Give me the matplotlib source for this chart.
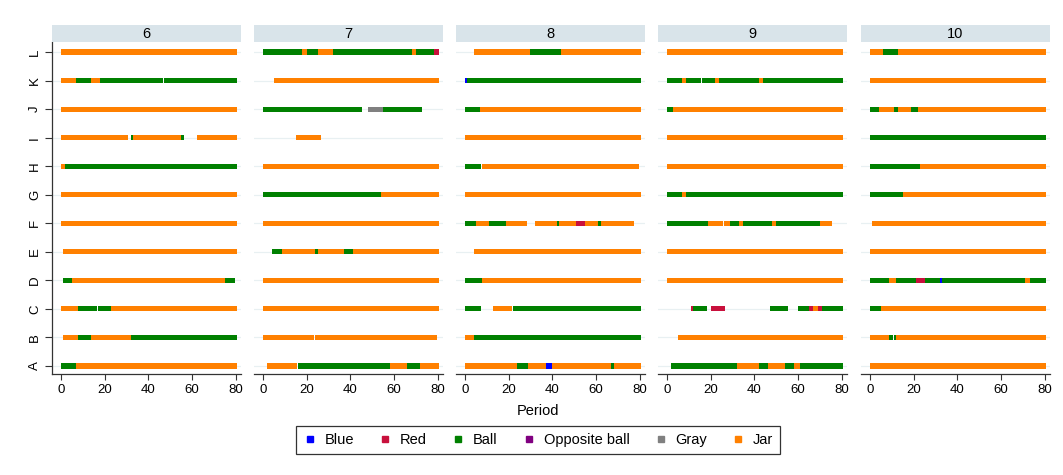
import matplotlib
matplotlib.use("Agg")
import matplotlib.pyplot as plt
from matplotlib.lines import Line2D

plt.rcParams['font.family'] = ['Liberation Sans', 'DejaVu Sans']

# Groups (panels) and subjects (rows, bottom to top)
groups = ['6', '7', '8', '9', '10']
subjects = ['A', 'B', 'C', 'D', 'E', 'F', 'G', 'H', 'I', 'J', 'K', 'L']

# Choice categories: code used in the run strings, legend name, colour
choice_codes = ['U', 'R', 'B', 'O', 'G', 'J']
choice_names = ['Blue', 'Red', 'Ball', 'Opposite ball', 'Gray', 'Jar']
choice_colors = ['#0000ff', '#c8103c', '#008000', '#800080', '#808080', '#ff8000']

# Choices per period, written as runs "<code><first>-<last>"; missing periods are gaps
group6 = {
    'L': 'J1-80',
    'K': 'J1-7 B8-14 J15-18 B19-46 B48-80',
    'J': 'J1-80',
    'I': 'J1-30 B33 J34-55 B56 J63-80',
    'H': 'J1-2 B3-80',
    'G': 'J1-80',
    'F': 'J1-80',
    'E': 'J2-80',
    'D': 'B2-5 J6-75 B76-79',
    'C': 'J1-8 B9-16 B18-23 J24-80',
    'B': 'J2-8 B9-14 J15-32 B33-80',
    'A': 'B1-7 J8-80',
}
group7 = {
    'L': 'B1-18 J19-20 B21-25 J26-32 B33-68 J69-70 B71-78 R79-80',
    'K': 'J6-80',
    'J': 'B1-45 G49-55 B56-72',
    'I': 'J16-26',
    'H': 'J1-80',
    'G': 'B1-54 J55-80',
    'F': 'J1-80',
    'E': 'B5-9 J10-24 B25 J26-37 B38-41 J42-80',
    'D': 'J1-80',
    'C': 'J1-80',
    'B': 'J1-23 J25-79',
    'A': 'J3-15 B17-58 J59-66 B67-72 J73-80',
}
group8 = {
    'L': 'J5-30 B31-44 J45-80',
    'K': 'U1 B2-80',
    'J': 'B1-7 J8-80',
    'I': 'J1-80',
    'H': 'B1-7 J9-79',
    'G': 'J1-80',
    'F': 'B1-5 J6-11 B12-19 J20-28 J33-42 B43 J44-51 R52-55 J56-61 B62 J63-77',
    'E': 'J5-80',
    'D': 'B1-8 J9-80',
    'C': 'B1-7 J14-21 B23-80',
    'B': 'J1-4 B5-80',
    'A': 'J1-24 B25-29 J30-37 U38-40 J41-67 B68 J69-80',
}
group9 = {
    'L': 'J1-80',
    'K': 'B1-7 J8-9 B10-15 B17-22 J23-24 B25-42 J43-44 B45-80',
    'J': 'B1-3 J4-80',
    'I': 'J1-80',
    'H': 'J1-80',
    'G': 'B1-7 J8-9 B10-80',
    'F': 'B1-19 J20-25 J27-29 B30-33 J34-35 B36-48 J49-50 B51-70 J71-75',
    'E': 'J1-80',
    'D': 'J1-80',
    'C': 'R12 B13-18 R21-26 B48-55 B61-65 R66-67 J68-69 R70-71 B72-80',
    'B': 'J6-80',
    'A': 'B3-32 J33-42 B43-46 J47-54 B55-58 J59-61 B62-80',
}
group10 = {
    'L': 'J1-6 B7-13 J14-80',
    'K': 'J1-80',
    'J': 'B1-4 J5-11 B12-13 J14-19 B20-22 J23-80',
    'I': 'B1-80',
    'H': 'B1-23 J24-80',
    'G': 'B1-15 J16-80',
    'F': 'J2-80',
    'E': 'J1-80',
    'D': 'B1-9 J10-12 B13-21 R22-25 B26-32 U33 B34-71 J72-73 B74-80',
    'C': 'B1-5 J6-80',
    'B': 'J1-9 B10 B12 J13-80',
    'A': 'J1-80',
}
group_data = [group6, group7, group8, group9, group10]

x_ticks = [0, 20, 40, 60, 80]


def parse_runs(text):
    runs = []
    for tok in text.split():
        code, span = tok[0], tok[1:]
        if '-' in span:
            a, b = (int(v) for v in span.split('-'))
        else:
            a = b = int(span)
        runs.append((a, b, code))
    return runs


color_of = dict(zip(choice_codes, choice_colors))

W, H = 1063, 475
fig = plt.figure(figsize=(W / 100, H / 100), dpi=100)

panel_lefts = [52, 254, 456, 658, 861]
panel_w = 189
plot_top, plot_bottom, strip_top = 42, 374, 25

for i, (g, data) in enumerate(zip(groups, group_data)):
    left = panel_lefts[i]
    ax = fig.add_axes([left / W, (H - plot_bottom) / H, panel_w / W,
                       (plot_bottom - plot_top) / H])
    for row, subj in enumerate(subjects, start=1):
        ax.axhline(row, color='#e8f0f2', lw=0.9, zorder=0)
        for a, b, code in parse_runs(data[subj]):
            ax.barh(row, width=b - a + 1.5, left=a - 1, height=0.18,
                    color=color_of[code], linewidth=0, zorder=2)
    ax.set_xlim(-4, 82.3)
    ax.set_ylim(0.72, 12.35)
    ax.set_xticks(x_ticks)
    ax.tick_params(axis='x', length=4, width=0.8, color='#333333',
                   labelsize=9.5, pad=3)
    for s in ('top', 'right'):
        ax.spines[s].set_visible(False)
    ax.spines['bottom'].set_color('#333333')
    ax.spines['bottom'].set_linewidth(0.9)
    if i == 0:
        ax.set_yticks(range(1, len(subjects) + 1))
        ax.set_yticklabels(subjects, rotation=90, va='center')
        ax.tick_params(axis='y', length=5, width=0.8, color='#333333',
                       labelsize=9.5, pad=3)
        ax.spines['left'].set_color('#333333')
        ax.spines['left'].set_linewidth(0.9)
    else:
        ax.set_yticks([])
        ax.spines['left'].set_visible(False)

    strip = fig.add_axes([left / W, (H - plot_top) / H, panel_w / W,
                          (plot_top - strip_top) / H])
    strip.set_facecolor('#d9e4ea')
    strip.set_xticks([])
    strip.set_yticks([])
    for s in strip.spines.values():
        s.set_visible(False)
    strip.text(0.5, 0.5, g, ha='center', va='center', fontsize=10.5,
               transform=strip.transAxes)

fig.text(538 / W, (H - 411) / H, 'Period', ha='center', va='center',
         fontsize=10.5)

handles = [Line2D([], [], marker='s', ls='none', color=c, markersize=4)
           for c in choice_colors]
leg = fig.legend(handles, choice_names, loc='center',
                 bbox_to_anchor=(538 / W, (H - 440) / H), ncol=6,
                 frameon=True, fancybox=False, edgecolor='black',
                 fontsize=10.5, handletextpad=0.5, columnspacing=1.65,
                 borderpad=0.45, handlelength=1.0)
leg.get_frame().set_linewidth(0.9)

fig.savefig('out.png', dpi=100, facecolor='white')
